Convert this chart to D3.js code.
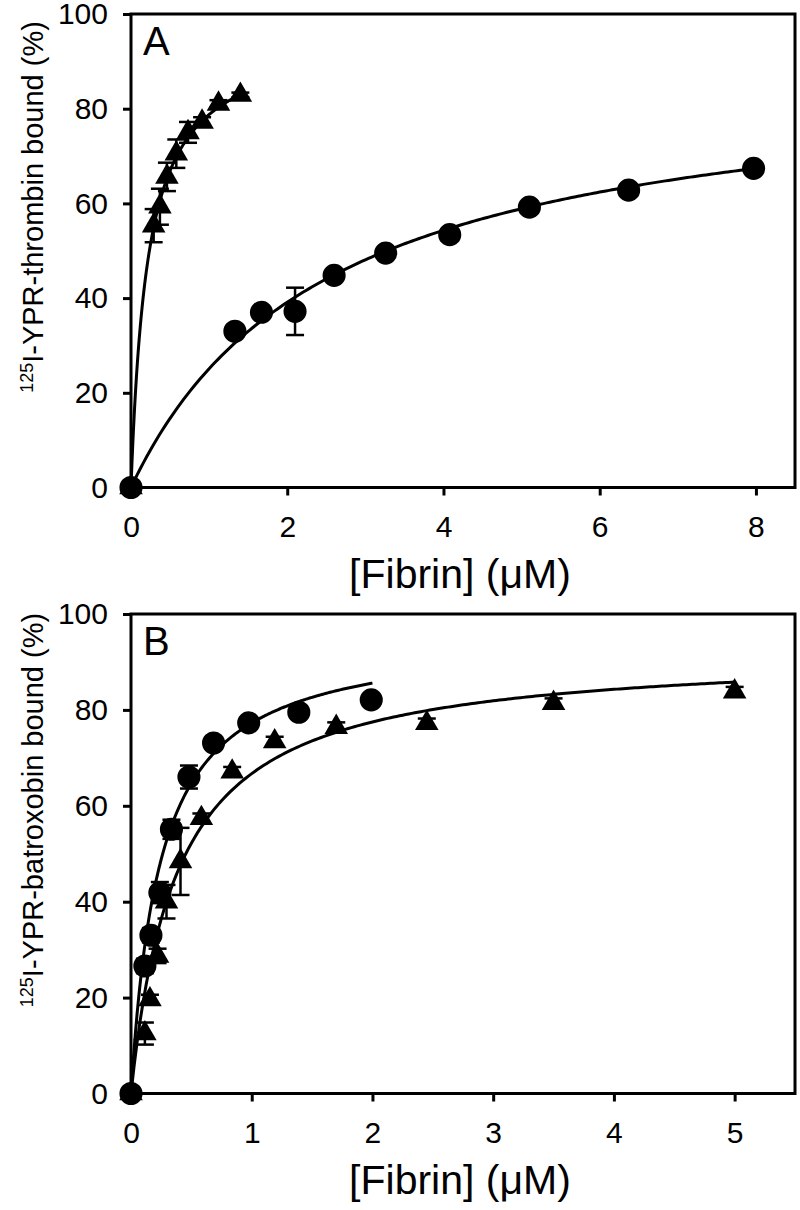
<!DOCTYPE html>
<html><head><meta charset="utf-8">
<script src="https://cdn.jsdelivr.net/npm/d3@7"></script>
<style>body{margin:0;background:#fff}svg{display:block}text{font-family:"Liberation Sans",Arial,sans-serif;fill:#000}</style>
</head><body><svg id="c" width="800" height="1210"></svg>
<script>
// Panel A: 125I-YPR-thrombin
const aCircX = [0, 1.33, 1.67, 2.1, 2.6, 3.26, 4.08, 5.1, 6.37, 7.97];
const aCircY = [0, 33.0, 37.0, 37.2, 44.8, 49.5, 53.4, 59.2, 62.8, 67.4];
const aCircE = [0, 0, 0, 5.0, 0, 0, 0, 0, 0, 0];
const aTriX = [0, 0.29, 0.37, 0.46, 0.58, 0.73, 0.91, 1.12, 1.40];
const aTriY = [0, 55.3, 59.3, 65.6, 70.5, 75.0, 77.2, 81.0, 82.9];
const aTriE = [0, 3.5, 3.8, 3.0, 3.0, 2.2, 1.0, 0.8, 0.5];
const aCircFit = {bmax: 88.8, kd: 2.54, xmax: 8.0};
const aTriFit = {bmax: 95.7, kd: 0.215, xmax: 1.4};
// Panel B: 125I-YPR-batroxobin
const bCircX = [0, 0.115, 0.165, 0.239, 0.335, 0.48, 0.684, 0.975, 1.39, 1.99];
const bCircY = [0, 26.6, 33.0, 41.9, 55.1, 66.0, 73.1, 77.3, 79.5, 82.1];
const bCircE = [0, 1.5, 1.5, 2.2, 2.0, 2.4, 0.8, 0.8, 0.8, 0.8];
const bTriX = [0, 0.115, 0.157, 0.22, 0.294, 0.41, 0.583, 0.838, 1.19, 1.70, 2.45, 3.5, 5.0];
const bTriY = [0, 12.5, 19.6, 28.7, 40.0, 48.4, 57.4, 67.1, 73.4, 76.4, 77.2, 81.4, 83.8];
const bTriE = [0, 2.3, 1.0, 1.5, 3.5, 7.0, 1.0, 1.0, 1.0, 1.0, 1.0, 1.0, 1.0];
const bCircFit = {bmax: 95.9, kd: 0.241, xmax: 2.0};
const bTriFit = {bmax: 92.4, kd: 0.385, xmax: 5.0};
const yTicks = [0, 20, 40, 60, 80, 100];
const aXTicks = [0, 2, 4, 6, 8];
const bXTicks = [0, 1, 2, 3, 4, 5];

const svg = d3.select("#c");
const L = 131, R = 795;

function panel(cfg) {
  const x = d3.scaleLinear().domain([0, cfg.xmax]).range([L, R]);
  const y = d3.scaleLinear().domain([0, 100]).range([cfg.bottom, cfg.top]);
  const g = svg.append("g");
  g.append("rect").attr("x", L).attr("y", cfg.top).attr("width", R - L).attr("height", cfg.bottom - cfg.top)
    .attr("fill", "none").attr("stroke", "#000").attr("stroke-width", 3);
  const xa = g.append("g").attr("transform", `translate(0,${cfg.bottom})`)
    .call(d3.axisBottom(x).tickValues(cfg.xTicks).tickSize(8).tickPadding(20).tickFormat(d3.format("d")));
  const ya = g.append("g").attr("transform", `translate(${L},0)`)
    .call(d3.axisLeft(y).tickValues(yTicks).tickSize(8).tickPadding(15).tickFormat(d3.format("d")));
  [xa, ya].forEach(a => {
    a.select(".domain").remove();
    a.selectAll("line").attr("stroke", "#000").attr("stroke-width", 3);
    a.selectAll("text").attr("font-size", 30).attr("font-family", "Liberation Sans, Arial, sans-serif");
  });
  cfg.fits.forEach(f => {
    const pts = d3.range(0, 201).map(i => { const xv = f.xmax * i / 200; return [xv, f.bmax * xv / (f.kd + xv)]; });
    g.append("path").datum(pts).attr("fill", "none").attr("stroke", "#000").attr("stroke-width", 3)
      .attr("d", d3.line().x(d => x(d[0])).y(d => y(d[1])));
  });
  cfg.series.forEach(s => {
    const data = s.x.map((xv, i) => ({x: xv, y: s.y[i], e: s.e[i]}));
    const eb = g.append("g");
    data.filter(d => d.e > 0).forEach(d => {
      const cx = x(d.x);
      eb.append("line").attr("x1", cx).attr("x2", cx).attr("y1", y(d.y - d.e)).attr("y2", y(d.y + d.e)).attr("stroke", "#000").attr("stroke-width", 2.5);
      [d.y - d.e, d.y + d.e].forEach(v => eb.append("line").attr("x1", cx - 9).attr("x2", cx + 9).attr("y1", y(v)).attr("y2", y(v)).attr("stroke", "#000").attr("stroke-width", 2.5));
    });
    const sym = d3.symbol().type(s.type === "circle" ? d3.symbolCircle : d3.symbolTriangle).size(s.type === "circle" ? 420 : 240);
    g.append("g").selectAll("path").data(data).join("path")
      .attr("transform", d => `translate(${x(d.x)},${y(d.y)})`).attr("d", sym).attr("fill", "#000");
  });
  g.append("text").attr("x", L + 12).attr("y", cfg.top + 41).attr("font-size", 40).text(cfg.letter);
  g.append("text").attr("x", 460).attr("y", cfg.bottom + 100).attr("text-anchor", "middle").attr("font-size", 41).text("[Fibrin] (\u03BCM)");
  const yt = g.append("text").attr("transform", `translate(43,${cfg.ylabY}) rotate(-90)`).attr("text-anchor", "middle").attr("font-size", 29);
  yt.append("tspan").attr("font-size", 18).attr("dy", -10).text("125");
  yt.append("tspan").attr("dy", 10).text(cfg.ylab);
}

panel({top: 14, bottom: 487.5, xmax: 8.5, xTicks: aXTicks, letter: "A", ylabY: 207, ylab: "I-YPR-thrombin bound (%)",
  fits: [aCircFit, aTriFit],
  series: [{type: "circle", x: aCircX, y: aCircY, e: aCircE}, {type: "triangle", x: aTriX, y: aTriY, e: aTriE}]});
panel({top: 614, bottom: 1093.5, xmax: 5.5, xTicks: bXTicks, letter: "B", ylabY: 810, ylab: "I-YPR-batroxobin bound (%)",
  fits: [bCircFit, bTriFit],
  series: [{type: "circle", x: bCircX, y: bCircY, e: bCircE}, {type: "triangle", x: bTriX, y: bTriY, e: bTriE}]});
</script></body></html>
